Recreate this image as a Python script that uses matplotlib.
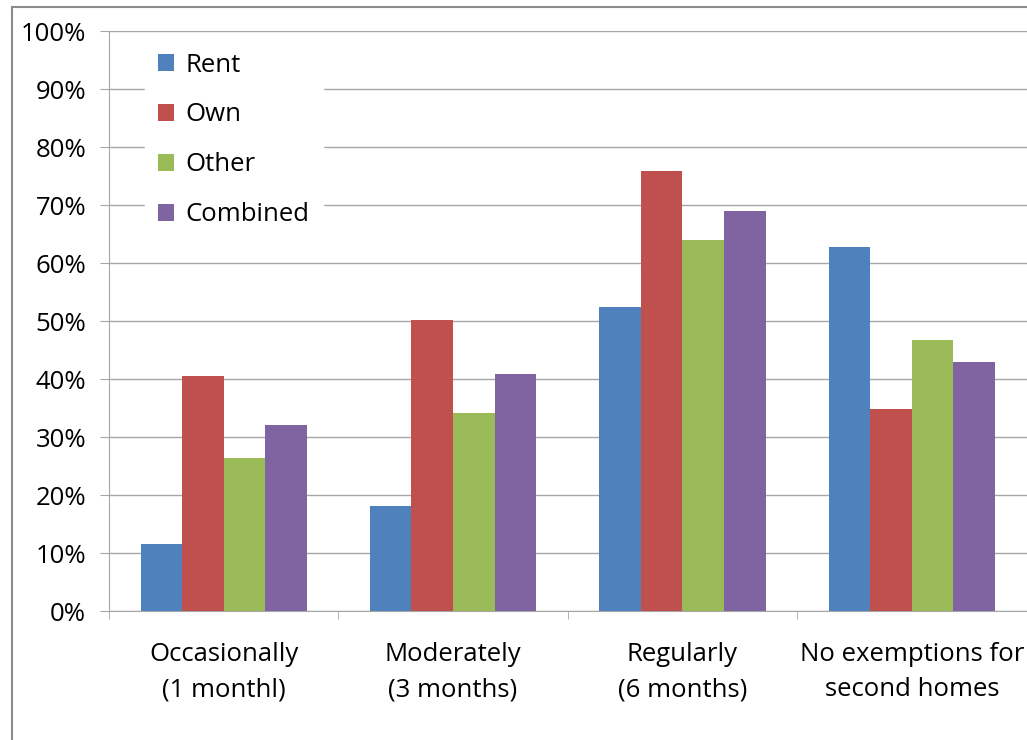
import numpy as np
import matplotlib.pyplot as plt
from matplotlib.patches import Rectangle

plt.rcParams['font.family'] = ['Open Sans', 'DejaVu Sans']

# datos
categorias = ['Occasionally\n(1 monthl)', 'Moderately\n(3 months)',
              'Regularly\n(6 months)', 'No exemptions for\nsecond homes']
series = ['Rent', 'Own', 'Other', 'Combined']
rent = [11.6, 18.1, 52.5, 62.8]
own = [40.5, 50.2, 75.8, 34.9]
other = [26.3, 34.1, 63.9, 46.8]
combined = [32.0, 40.8, 69.0, 42.9]
colores = ['#4F81BD', '#C0504D', '#9BBB59', '#8064A2']

fig = plt.figure(figsize=(10.27, 7.4), dpi=100)
ax = fig.add_axes([0.1061, 0.1743, 0.8935, 0.7838])

# marco exterior del grafico (recortado a la derecha y abajo)
fig.patches.append(Rectangle((12 / 1027, -0.1), 1.2, 1.1 - 7 / 740,
                             transform=fig.transFigure, fill=False,
                             edgecolor='#8c8c8c', linewidth=1.5))

x = np.arange(len(categorias))
ancho = 0.725 / 4
for i, (nombre, valores) in enumerate(zip(series, [rent, own, other, combined])):
    ax.bar(x + (i - 1.5) * ancho, valores, ancho, color=colores[i],
           label=nombre, zorder=3)

ax.set_xlim(-0.5, 3.5)
ax.set_ylim(0, 100)
ax.set_yticks(np.arange(0, 101, 10))
ax.set_yticklabels([f'{v}%' for v in range(0, 101, 10)], fontsize=18.5)
ax.set_xticks(x)
ax.set_xticklabels(categorias, fontsize=18.5, linespacing=1.55)
ax.set_xticks(np.arange(-0.5, 4, 1), minor=True)
ax.tick_params(axis='x', which='major', length=0, pad=22)
ax.tick_params(axis='x', which='minor', length=6, color='#a6a6a6')
ax.tick_params(axis='y', length=6.5, color='#a6a6a6', pad=10)

ax.grid(axis='y', color='#a6a6a6', linewidth=1, zorder=0)
for lado in ['top', 'right']:
    ax.spines[lado].set_visible(False)
ax.spines['left'].set_color('#a6a6a6')
ax.spines['bottom'].set_color('#a6a6a6')

leg = ax.legend(loc='upper left', bbox_to_anchor=(0.039, 0.985), fontsize=18.5,
                frameon=True, fancybox=False, edgecolor='white',
                handlelength=0.65, handleheight=0.65, handletextpad=0.45,
                labelspacing=0.97, borderpad=0.5, borderaxespad=0)
leg.get_frame().set_facecolor('white')
leg.get_frame().set_alpha(1)
leg.set_zorder(5)

fig.savefig('out.png', dpi=100)
